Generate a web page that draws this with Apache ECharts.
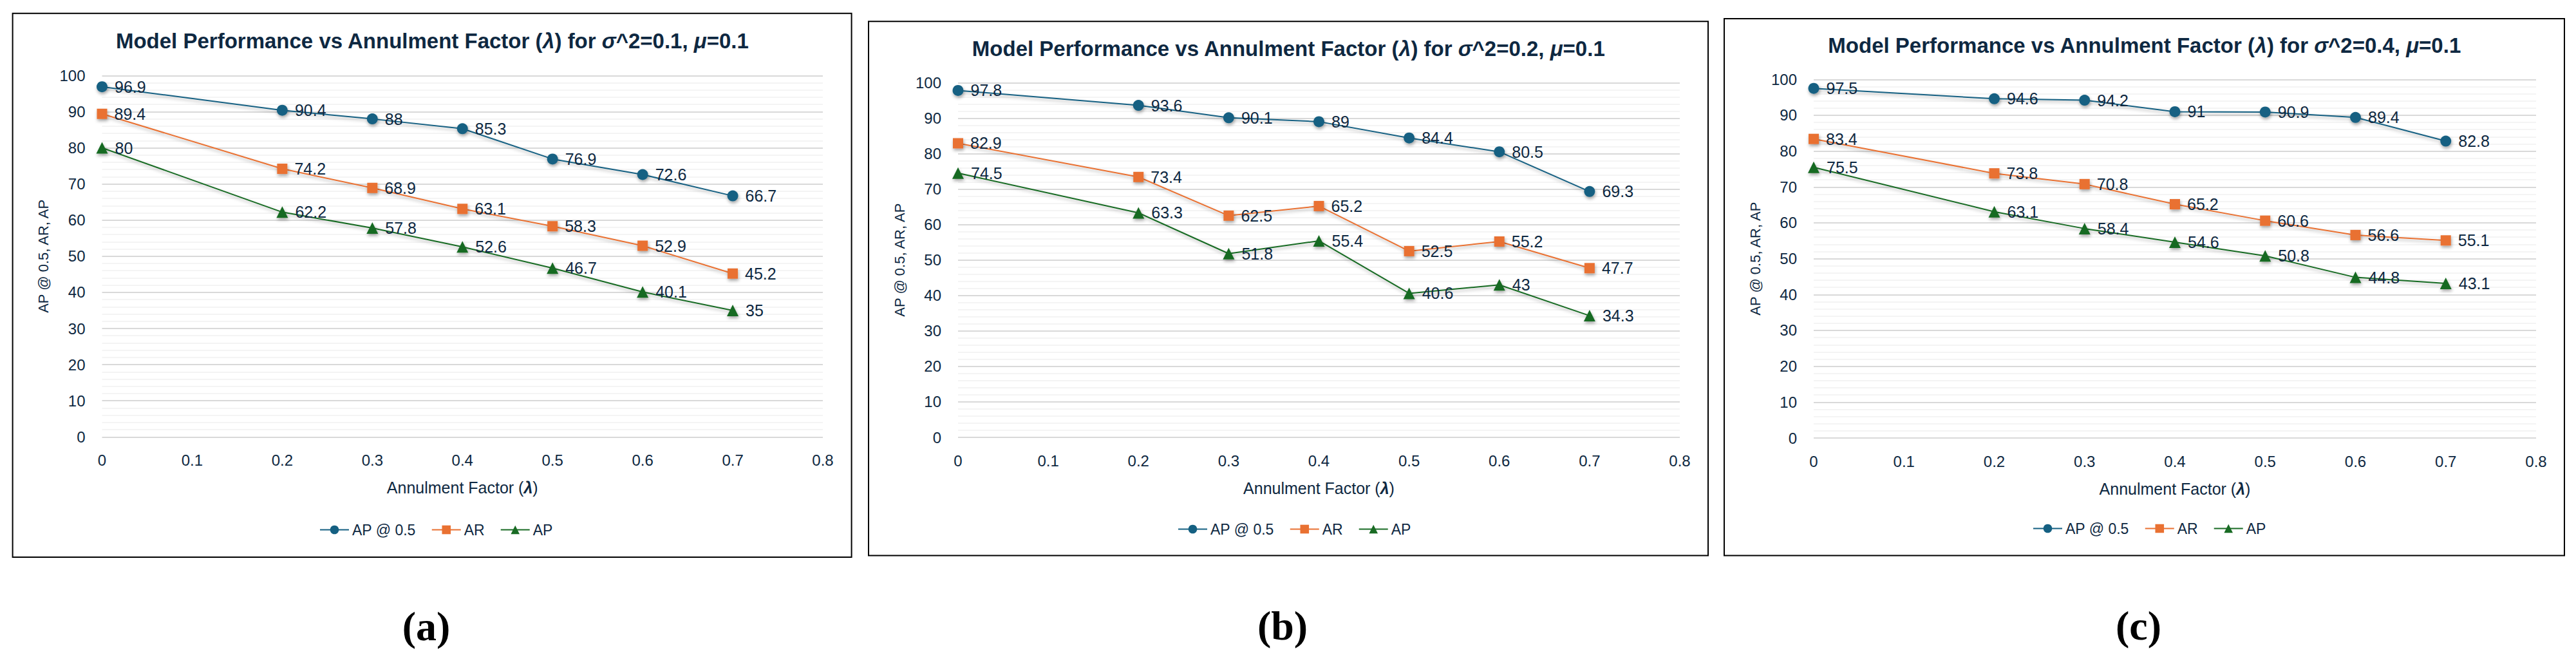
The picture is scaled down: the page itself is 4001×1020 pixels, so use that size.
<!DOCTYPE html>
<html>
<head>
<meta charset="utf-8">
<script src="https://cdn.jsdelivr.net/npm/echarts@6/dist/echarts.min.js"></script>
<style>
html,body{margin:0;padding:0;background:#fff;}
#c{width:4001px;height:1020px;}
</style>
</head>
<body>
<div id="c"></div>
<script>
// ---------------- data ----------------
const lambdaValues = [0, 0.2, 0.3, 0.4, 0.5, 0.6, 0.7];
const xTickLabels = ['0', '0.1', '0.2', '0.3', '0.4', '0.5', '0.6', '0.7', '0.8'];
const yTickLabels = ['0', '10', '20', '30', '40', '50', '60', '70', '80', '90', '100'];
const seriesNames = ['AP @ 0.5', 'AR', 'AP'];
const panelTags = ['a', 'b', 'c'];
const sigmaValues = ['0.1', '0.2', '0.4'];
const muValue = '0.1';

// panel (a)  sigma^2 = 0.1
const apAt05_a = [96.9, 90.4, 88, 85.3, 76.9, 72.6, 66.7];
const ar_a     = [89.4, 74.2, 68.9, 63.1, 58.3, 52.9, 45.2];
const ap_a     = [80, 62.2, 57.8, 52.6, 46.7, 40.1, 35];
// panel (b)  sigma^2 = 0.2
const apAt05_b = [97.8, 93.6, 90.1, 89, 84.4, 80.5, 69.3];
const ar_b     = [82.9, 73.4, 62.5, 65.2, 52.5, 55.2, 47.7];
const ap_b     = [74.5, 63.3, 51.8, 55.4, 40.6, 43, 34.3];
// panel (c)  sigma^2 = 0.4
const apAt05_c = [97.5, 94.6, 94.2, 91, 90.9, 89.4, 82.8];
const ar_c     = [83.4, 73.8, 70.8, 65.2, 60.6, 56.6, 55.1];
const ap_c     = [75.5, 63.1, 58.4, 54.6, 50.8, 44.8, 43.1];

const panelData = [
  [apAt05_a, ar_a, ap_a],
  [apAt05_b, ar_b, ap_b],
  [apAt05_c, ar_c, ap_c]
];

// ---------------- layout & style ----------------
const layout = [
  {border: [19.6, 20.7, 1303, 844.3], grid: [158.5, 117.3, 1119.5, 561], titleY: 63, legendLeft: 496, legendY: 826, tagY: 972},
  {border: [1349, 33.3, 1304, 829.3], grid: [1488, 128.3, 1121, 550.7], titleY: 75, legendLeft: 1829, legendY: 825, tagY: 971},
  {border: [2678, 29, 1305, 833.6], grid: [2817, 123.3, 1122, 556.7], titleY: 70, legendLeft: 3157, legendY: 824, tagY: 971}
];
const colors = ['#156082', '#E97132', '#196B24'];
const symbols = ['circle', 'rect', 'triangle'];
const symbolSizes = [17, 16, 18];
const textColor = '#0E2841';
const FONT = "'Liberation Sans', Arial, sans-serif";

const grids = [], xAxes = [], yAxes = [], series = [], titles = [], legends = [], graphics = [];

layout.forEach((L, p) => {
  const [gl, gt, gw, gh] = L.grid;
  grids.push({left: gl, top: gt, width: gw, height: gh, containLabel: false});
  xAxes.push({
    type: 'value', gridIndex: p, min: 0, max: 0.8, interval: 0.1,
    axisLine: {show: false}, axisTick: {show: false}, splitLine: {show: false},
    axisLabel: {fontSize: 24, color: textColor, fontFamily: FONT, margin: 24,
      formatter: v => xTickLabels[Math.round(v * 10)]},
    name: 'Annulment Factor ({l|λ})', nameLocation: 'middle', nameGap: 66,
    nameTextStyle: {fontSize: 25, color: textColor, fontFamily: FONT,
      rich: {l: {fontSize: 25, color: textColor, fontFamily: FONT, fontWeight: 'bold', fontStyle: 'italic'}}}
  });
  yAxes.push({
    type: 'value', gridIndex: p, min: 0, max: 100, interval: 10,
    axisLine: {show: false}, axisTick: {show: false},
    axisLabel: {fontSize: 24, color: textColor, fontFamily: FONT, margin: 26,
      formatter: v => yTickLabels[Math.round(v / 10)]},
    splitLine: {show: true, lineStyle: {color: '#D9D9D9', width: 2}},
    minorTick: {show: false, splitNumber: 5},
    minorSplitLine: {show: true, lineStyle: {color: '#F0F0F0', width: 1.5}},
    name: 'AP @ 0.5, AR, AP', nameLocation: 'middle', nameGap: 80, nameRotate: 90,
    nameTextStyle: {fontSize: 22, color: textColor, fontFamily: FONT}
  });
  panelData[p].forEach((vals, s) => {
    series.push({
      name: seriesNames[s], type: 'line', xAxisIndex: p, yAxisIndex: p,
      data: lambdaValues.map((x, i) => [x, vals[i]]),
      symbol: symbols[s], symbolSize: symbolSizes[s],
      lineStyle: {color: colors[s], width: 2, shadowColor: 'rgba(0,0,0,0.3)', shadowBlur: 5, shadowOffsetX: 1, shadowOffsetY: 3},
      itemStyle: {color: colors[s], shadowColor: 'rgba(0,0,0,0.35)', shadowBlur: 5, shadowOffsetX: 1, shadowOffsetY: 3},
      label: {show: true, position: 'right', distance: 11, fontSize: 25, color: textColor, fontFamily: FONT,
        formatter: d => String(d.value[1])},
      emphasis: {disabled: true},
      animation: false
    });
  });
  const cx = L.border[0] + L.border[2] / 2;
  titles.push({
    text: 'Model Performance vs Annulment Factor ({i|λ}) for {i|σ}^2=' + sigmaValues[p] + ', {i|μ}=' + muValue,
    left: cx, textAlign: 'center', top: L.titleY - 20, padding: 0,
    textStyle: {fontSize: 33, fontWeight: 'bold', color: textColor, fontFamily: FONT, lineHeight: 40,
      rich: {i: {fontSize: 33, fontWeight: 'bold', fontStyle: 'italic', color: textColor, fontFamily: FONT, lineHeight: 40}}}
  });
  titles.push({
    text: '({b|' + panelTags[p] + '})',
    left: cx - 9, textAlign: 'center', top: L.tagY - 38, padding: 0,
    textStyle: {fontSize: 64, color: '#000', fontFamily: "'Liberation Serif', 'Times New Roman', serif", lineHeight: 76,
      rich: {b: {fontSize: 64, fontWeight: 'bold', color: '#000', fontFamily: "'Liberation Serif', 'Times New Roman', serif", lineHeight: 76}}}
  });
  legends.push({
    data: seriesNames, left: L.legendLeft, top: L.legendY - 15, padding: 0,
    itemWidth: 45, itemHeight: 17, itemGap: 24, selectedMode: false,
    textStyle: {fontSize: 23, color: textColor, fontFamily: FONT}
  });
  graphics.push({
    type: 'rect', silent: true, z: -10,
    shape: {x: L.border[0], y: L.border[1], width: L.border[2], height: L.border[3]},
    style: {fill: 'none', stroke: '#000', lineWidth: 2}
  });
});

const chart = echarts.init(document.getElementById('c'), null, {renderer: 'svg', width: 4001, height: 1020});
chart.setOption({
  backgroundColor: '#fff',
  animation: false,
  title: titles,
  legend: legends,
  grid: grids,
  xAxis: xAxes,
  yAxis: yAxes,
  series: series,
  graphic: graphics
});
</script>
</body>
</html>
